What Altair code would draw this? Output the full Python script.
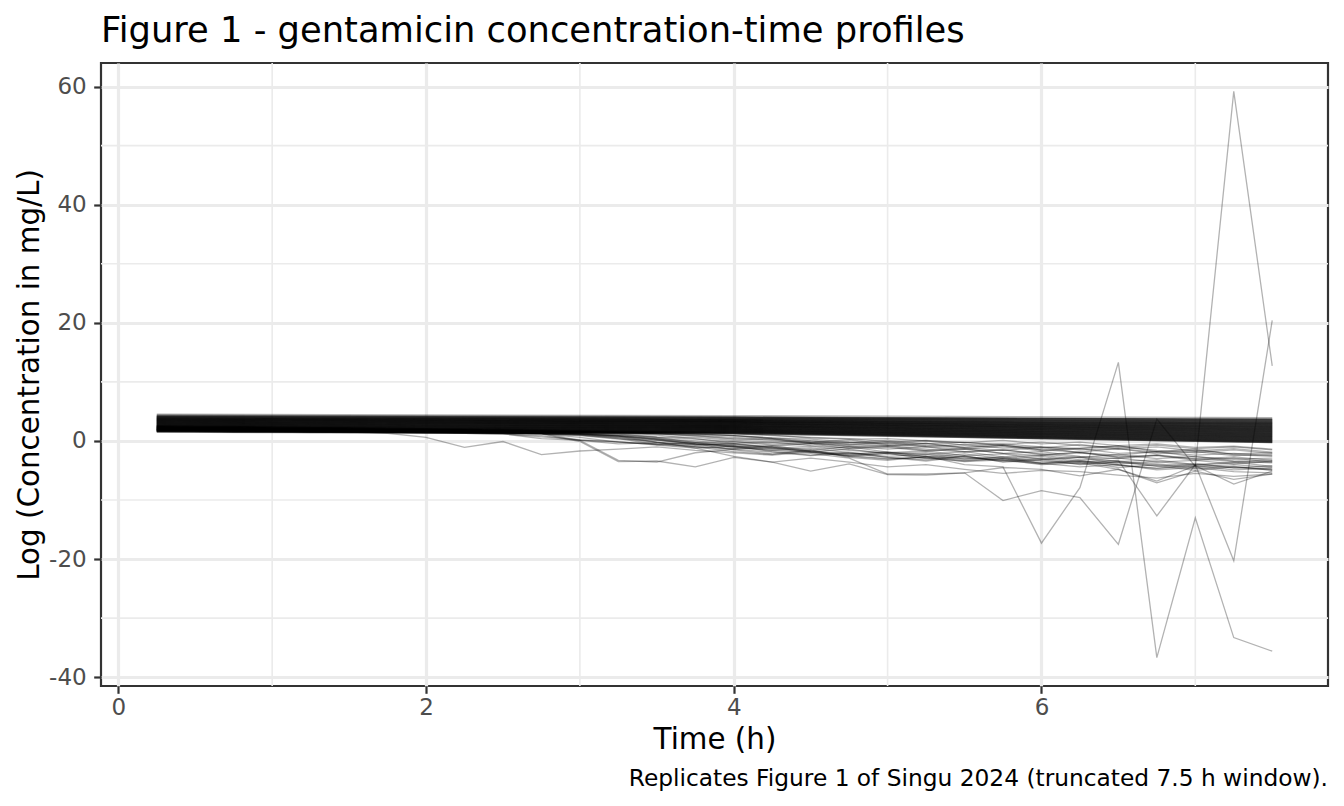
import altair as alt
import pandas as pd

# ---------------- data ----------------
times = [0.25, 0.5, 0.75, 1.0, 1.25, 1.5, 1.75, 2.0, 2.25, 2.5,
         2.75, 3.0, 3.25, 3.5, 3.75, 4.0, 4.25, 4.5, 4.75, 5.0,
         5.25, 5.5, 5.75, 6.0, 6.25, 6.5, 6.75, 7.0, 7.25, 7.5]

# dense core of near-straight profiles: value at 0.25 h, 4 h and 7.5 h
core_times = [0.25, 4.0, 7.5]
core_start = [4.52, 4.38, 4.31, 4.26, 4.21, 4.17, 4.14, 4.10, 4.07, 4.03,
              3.99, 3.96, 3.94, 3.90, 3.87, 3.84, 3.81, 3.79, 3.76, 3.73,
              3.70, 3.68, 3.65, 3.62, 3.59, 3.57, 3.54, 3.51, 3.48, 3.46,
              3.43, 3.40, 3.38, 3.35, 3.32, 3.29, 3.27, 3.24, 3.21, 3.18,
              3.16, 3.13, 3.10, 3.07, 3.05, 3.02, 2.99, 2.96, 2.94, 2.91,
              2.88, 2.85, 2.83, 2.80, 2.77, 2.74, 2.72, 2.69, 2.66, 2.63,
              2.61, 2.58, 2.55, 2.52, 2.50, 2.47, 2.44, 2.41, 2.39, 2.36,
              2.33, 2.30, 2.28, 2.25, 2.22, 2.19, 2.17, 2.14, 2.11, 2.08,
              2.06, 2.03, 2.00, 1.97, 1.95, 1.92, 1.89, 1.86, 1.84, 1.81,
              1.78, 1.75, 1.73, 1.70, 1.67, 1.64, 1.62, 1.59, 1.55, 1.48]
core_mid = [4.30, 4.05, 4.12, 3.98, 4.02, 3.90, 3.95, 3.82, 3.88, 3.76,
            3.80, 3.66, 3.74, 3.70, 3.58, 3.65, 3.52, 3.60, 3.47, 3.55,
            3.44, 3.50, 3.36, 3.42, 3.30, 3.38, 3.25, 3.33, 3.18, 3.27,
            3.14, 3.22, 3.08, 3.17, 3.02, 3.12, 2.96, 3.06, 2.90, 3.00,
            2.85, 2.95, 2.80, 2.89, 2.74, 2.84, 2.68, 2.78, 2.62, 2.72,
            2.57, 2.66, 2.51, 2.60, 2.46, 2.55, 2.40, 2.49, 2.34, 2.43,
            2.29, 2.38, 2.23, 2.32, 2.18, 2.26, 2.12, 2.20, 2.06, 2.15,
            2.01, 2.09, 1.95, 2.03, 1.90, 1.97, 1.84, 1.92, 1.79, 1.86,
            1.73, 1.80, 1.68, 1.75, 1.62, 1.69, 1.57, 1.63, 1.51, 1.58,
            1.46, 1.52, 1.40, 1.47, 1.35, 1.41, 1.29, 1.36, 1.24, 1.20]
core_end = [3.95, 3.70, 3.60, 3.78, 3.52, 3.66, 3.40, 3.55, 3.30, 3.45,
            3.20, 3.38, 3.10, 3.28, 3.02, 3.18, 2.95, 3.08, 2.85, 3.00,
            2.78, 2.92, 2.70, 2.84, 2.60, 2.76, 2.52, 2.66, 2.44, 2.58,
            2.36, 2.50, 2.28, 2.42, 2.20, 2.34, 2.12, 2.26, 2.04, 2.18,
            1.96, 2.10, 1.88, 2.02, 1.80, 1.94, 1.72, 1.86, 1.64, 1.78,
            1.56, 1.70, 1.48, 1.62, 1.40, 1.54, 1.32, 1.46, 1.24, 1.38,
            1.16, 1.30, 1.08, 1.22, 1.00, 1.14, 0.92, 1.06, 0.84, 0.98,
            0.76, 0.90, 0.68, 0.82, 0.60, 0.74, 0.52, 0.66, 0.44, 0.58,
            0.36, 0.50, 0.28, 0.42, 0.20, 0.34, 0.12, 0.26, 0.04, 0.18,
            -0.04, 0.10, -0.12, 0.02, -0.20, -0.06, -0.28, -0.14, -0.30, -0.22]

# individual profiles that fall below the core (one value per time point)
s01 = [1.9, 1.8, 1.8, 1.7, 1.6, 1.5, 1.3, 0.6, -1.1, -0.1, -2.3, -1.7, -1.4, -1.0, -1.6, -2.0, -2.4, -1.9, -2.6, -3.1, -2.7, -3.3, -3.0, -3.8, -3.4, -4.1, -4.6, -4.0, -4.5, -4.9]
s02 = [2.0, 2.0, 1.9, 1.9, 1.8, 1.8, 1.7, 1.6, 1.5, 1.4, 1.3, 0.1, -3.3, -3.6, -2.0, -1.4, -1.9, -2.5, -2.1, -2.8, -3.2, -2.6, -3.5, -3.1, -4.0, -3.6, -3.9, -4.4, -4.0, -4.5]
s03 = [2.1, 2.0, 2.0, 1.9, 1.9, 1.8, 1.7, 1.6, 1.5, 1.4, 1.2, -0.1, -3.5, -3.4, -4.4, -2.8, -3.6, -5.1, -3.9, -5.7, -5.8, -5.4, -10.1, -8.4, -9.6, -17.5, 3.7, -4.3, 59.2, 12.7]
s04 = [1.8, 1.8, 1.7, 1.7, 1.6, 1.6, 1.5, 1.5, 1.4, 1.3, 1.2, 1.0, 0.6, -0.2, -1.2, -2.6, -3.6, -2.9, -3.6, -4.4, -4.0, -4.8, -5.5, -5.0, -5.2, -5.8, -6.3, -5.5, -6.0, -5.6]
s05 = [2.2, 2.1, 2.1, 2.0, 1.9, 1.9, 1.8, 1.7, 1.6, 1.5, 1.4, 1.2, 0.8, 0.2, -0.5, -1.5, -2.2, -1.6, -2.8, -3.3, -2.6, -4.0, -4.4, -17.3, -7.9, 13.3, -36.7, -13.0, -33.3, -35.6]
s06 = [1.9, 1.9, 1.8, 1.8, 1.7, 1.7, 1.6, 1.5, 1.5, 1.4, 1.3, 1.1, 0.8, 0.3, -0.2, -0.9, -1.0, -1.8, -2.3, -1.9, -2.7, -2.2, -3.0, -2.6, -3.5, -3.3, -12.7, -4.0, -20.3, 20.4]
s07 = [2.3, 2.2, 2.2, 2.1, 2.1, 2.0, 1.9, 1.9, 1.8, 1.7, 1.6, 1.5, 1.4, 1.2, 1.0, 0.6, 0.3, -0.4, -0.2, -0.7, -0.9, -0.6, -1.2, -1.0, -1.5, -1.3, -1.9, -1.6, -2.2, -2.0]
s08 = [2.0, 2.0, 1.9, 1.9, 1.8, 1.8, 1.7, 1.6, 1.5, 1.4, 1.3, 1.2, 0.9, 0.4, 0.0, -0.6, -0.9, -0.5, -1.3, -1.1, -1.7, -1.4, -2.1, -2.5, -1.9, -2.8, -2.4, -3.1, -2.7, -3.3]
s09 = [2.5, 2.4, 2.4, 2.3, 2.2, 2.2, 2.1, 2.0, 1.9, 1.8, 1.7, 1.6, 1.5, 1.3, 1.1, 0.9, 0.4, -0.3, 0.2, -0.6, -0.4, -1.1, -0.7, -1.5, -1.2, -0.8, -1.8, -1.4, -2.3, -2.6]
s10 = [1.7, 1.7, 1.6, 1.6, 1.5, 1.5, 1.4, 1.4, 1.3, 1.2, 0.7, 0.2, -0.2, -0.5, -0.9, -1.3, -0.8, -1.7, -2.2, -1.9, -2.6, -3.0, -2.7, -3.4, -3.9, -3.6, -4.3, -3.8, -4.6, -4.2]
s11 = [2.4, 2.3, 2.3, 2.2, 2.2, 2.1, 2.0, 1.9, 1.9, 1.8, 1.7, 1.6, 1.5, 1.4, 1.2, 0.9, 0.5, 0.0, -0.3, 0.1, -0.5, -0.2, -0.8, -1.2, -0.6, -1.4, -1.0, -1.7, -1.3, -1.9]
s12 = [1.9, 1.9, 1.8, 1.8, 1.7, 1.7, 1.6, 1.5, 1.5, 1.4, 1.3, 1.1, 0.5, -0.3, -0.6, -0.4, -1.1, -1.5, -1.0, -1.9, -2.3, -1.8, -2.7, -2.4, -3.2, -2.9, -3.6, -3.3, -3.9, -3.5]
s13 = [2.2, 2.1, 2.1, 2.0, 2.0, 1.9, 1.8, 1.8, 1.7, 1.6, 1.5, 1.4, 1.2, 0.7, 0.6, 0.1, -0.2, 0.0, -0.6, -0.9, -0.4, -1.2, -1.6, -1.1, -2.0, -2.4, -1.8, -2.7, -3.1, -2.9]
s14 = [1.6, 1.6, 1.5, 1.5, 1.5, 1.4, 1.4, 1.3, 1.3, 1.2, 0.4, 0.1, -0.5, -0.3, -1.0, -1.4, -1.1, -1.9, -2.5, -2.1, -2.9, -3.4, -3.0, -3.8, -4.4, -4.0, -4.9, -4.5, -5.2, -5.4]
s15 = [2.6, 2.5, 2.5, 2.4, 2.3, 2.3, 2.2, 2.1, 2.1, 2.0, 1.9, 1.8, 1.7, 1.6, 1.5, 1.3, 1.0, 0.5, 0.3, 0.4, 0.0, -0.3, 0.1, -0.5, -0.2, -0.8, -0.5, -1.1, -0.9, -1.4]
s16 = [2.1, 2.0, 2.0, 1.9, 1.9, 1.8, 1.7, 1.7, 1.6, 1.5, 1.4, 1.3, 1.1, 0.6, 0.3, -0.1, -0.5, -0.3, -0.9, -1.4, -1.0, -1.8, -1.5, -2.2, -2.8, -2.3, -3.0, -2.6, -3.4, -3.7]
s17 = [1.8, 1.8, 1.7, 1.7, 1.6, 1.6, 1.5, 1.5, 1.4, 1.3, 1.2, 0.9, 0.3, 0.1, -0.4, -0.8, -1.3, -0.9, -1.6, -2.0, -1.7, -2.5, -2.2, -3.1, -2.7, -3.5, -3.2, -4.0, -3.6, -4.3]
s18 = [2.3, 2.2, 2.2, 2.1, 2.0, 2.0, 1.9, 1.8, 1.8, 1.7, 1.6, 1.5, 1.4, 1.2, 0.8, 0.3, 0.3, -0.2, -0.5, -0.1, -0.8, -1.1, -0.7, -1.5, -1.9, -1.3, -2.2, -1.8, -2.5, -2.3]
s19 = [1.7, 1.7, 1.6, 1.6, 1.5, 1.5, 1.4, 1.4, 1.3, 1.3, 1.2, 0.6, -0.2, -0.6, -0.3, -1.1, -1.6, -1.2, -2.0, -2.6, -2.3, -3.1, -2.8, -3.7, -3.3, -4.1, -4.7, -4.2, -4.9, -4.6]
s20 = [2.0, 2.0, 1.9, 1.9, 1.8, 1.8, 1.7, 1.7, 1.6, 1.5, 1.4, 1.3, 1.0, 0.6, -0.3, -0.1, -0.7, -0.4, -1.0, -0.8, -1.4, -1.9, -1.5, -2.3, -2.0, -2.7, -2.4, -3.0, -3.5, -3.2]
s21 = [2.4, 2.3, 2.3, 2.2, 2.2, 2.1, 2.0, 2.0, 1.9, 1.8, 1.7, 1.6, 1.5, 1.4, 1.2, 0.9, 0.5, 0.3, -0.2, -0.4, 0.0, -0.7, -0.5, -1.0, -1.3, -0.9, -1.6, -2.0, -1.5, -2.1]
s22 = [1.9, 1.8, 1.8, 1.7, 1.7, 1.6, 1.6, 1.5, 1.4, 1.4, 1.3, 1.2, 0.8, -0.2, -0.7, -0.5, -1.2, -1.8, -1.4, -2.2, -2.0, -2.8, -3.3, -2.9, -3.7, -3.4, -4.2, -5.0, -4.4, -4.8]
s23 = [2.2, 2.1, 2.1, 2.0, 2.0, 1.9, 1.8, 1.8, 1.7, 1.6, 1.5, 1.4, 1.3, 1.0, 0.4, -0.4, -0.2, -0.8, -1.2, -0.9, -1.6, -1.3, -2.1, -1.8, -2.6, -3.0, -2.5, -3.3, -2.9, -3.6]
s24 = [2.0, 2.0, 1.9, 1.9, 1.8, 1.8, 1.7, 1.6, 1.5, 1.4, 1.3, 1.1, 0.7, 0.2, -0.6, -1.0, -1.6, -2.1, -2.9, -5.6, -5.6, -5.4, -4.5, -4.8, -5.9, -4.8, -7.1, -5.1, -6.5, -5.6]
s25 = [2.1, 2.1, 2.0, 2.0, 1.9, 1.9, 1.8, 1.7, 1.6, 1.5, 1.4, 1.2, 0.9, 0.4, -0.5, -0.9, -1.4, -1.9, -2.5, -3.0, -2.8, -3.5, -3.2, -4.0, -3.7, -4.8, -6.8, -4.2, -7.3, -5.1]
s26 = [1.8, 1.8, 1.7, 1.7, 1.6, 1.6, 1.5, 1.5, 1.4, 1.3, 1.2, 1.0, 0.4, -0.6, -1.0, -1.8, -2.3, -1.5, -2.6, -2.1, -3.0, -2.5, -3.6, -3.2, -2.8, -3.9, -3.5, -4.1, -3.7, -3.4]
s27 = [2.3, 2.2, 2.2, 2.1, 2.1, 2.0, 1.9, 1.9, 1.8, 1.7, 1.6, 1.5, 1.4, 1.2, 0.9, 0.4, 0.1, -0.4, -0.7, -0.3, -1.0, -1.4, -0.9, -1.7, -1.3, -2.1, -1.8, -2.4, -2.1, -2.5]
s28 = [1.6, 1.6, 1.5, 1.5, 1.4, 1.4, 1.4, 1.3, 1.3, 1.2, 0.9, 0.1, -0.1, -0.7, -1.2, -0.9, -1.8, -2.4, -1.9, -2.8, -3.4, -2.6, -3.3, -3.9, -3.5, -4.5, -4.0, -4.7, -4.3, -5.0]
s29 = [2.5, 2.4, 2.4, 2.3, 2.3, 2.2, 2.1, 2.1, 2.0, 1.9, 1.8, 1.7, 1.6, 1.5, 1.4, 1.2, 0.9, 0.6, 0.4, -0.1, 0.1, -0.3, -0.6, -0.2, -0.8, -1.1, -0.7, -1.3, -1.0, -1.5]

scatter_profiles = [s01, s02, s03, s04, s05, s06, s07, s08, s09, s10,
                    s11, s12, s13, s14, s15, s16, s17, s18, s19, s20,
                    s21, s22, s23, s24, s25, s26, s27, s28, s29]

x_breaks = [0, 2, 4, 6]
x_minor = [1, 3, 5, 7]
y_breaks = [-40, -20, 0, 20, 40, 60]
y_minor = [-30, -10, 10, 30, 50]

title_text = "Figure 1 - gentamicin concentration-time profiles"
caption_text = "Replicates Figure 1 of Singu 2024 (truncated 7.5 h window)."

# ---------------- long table ----------------
rows = []
for i, (a, b, c) in enumerate(zip(core_start, core_mid, core_end)):
    for t, v in zip(core_times, (a, b, c)):
        rows.append({"id": f"c{i}", "time": t, "conc": v})
for j, prof in enumerate(scatter_profiles):
    for t, v in zip(times, prof):
        rows.append({"id": f"s{j}", "time": t, "conc": v})
df = pd.DataFrame(rows)

# ggplot-like 5% expansion of the data range
def expand(lo, hi, f=0.05):
    r = hi - lo
    return [lo - f * r, hi + f * r]

x_dom = expand(df["time"].min(), df["time"].max())
y_dom = expand(df["conc"].min(), df["conc"].max())

FONT = "DejaVu Sans"
W, H = 1227, 623

x_scale = alt.Scale(domain=x_dom, nice=False, zero=False)
y_scale = alt.Scale(domain=y_dom, nice=False, zero=False)

common_axis = dict(grid=True, gridColor="#EBEBEB", gridWidth=3.2,
                   domain=False, tickColor="#333333", tickWidth=2.2,
                   tickSize=7.3, labelFontSize=23, labelColor="#4D4D4D",
                   labelFont=FONT, titleFont=FONT, titleFontSize=29.4,
                   titleFontWeight="normal", titleColor="black",
                   labelExpr="datum.value + ''")
x_axis = alt.Axis(values=x_breaks, title="Time (h)", labelPadding=3,
                  titlePadding=6, **common_axis)
y_axis = alt.Axis(values=y_breaks, title="Log (Concentration in mg/L)",
                  labelPadding=7.5, titlePadding=4, **common_axis)

minor_x = alt.Chart(pd.DataFrame({"xm": x_minor})).mark_rule(
    color="#EBEBEB", strokeWidth=1.6
).encode(x=alt.X("xm:Q", scale=x_scale, axis=x_axis))

minor_y = alt.Chart(pd.DataFrame({"ym": y_minor})).mark_rule(
    color="#EBEBEB", strokeWidth=1.6
).encode(y=alt.Y("ym:Q", scale=y_scale, axis=y_axis))

lines = alt.Chart(df).mark_line(
    color="black", opacity=0.3, strokeWidth=1.3
).encode(
    x=alt.X("time:Q", scale=x_scale, axis=x_axis),
    y=alt.Y("conc:Q", scale=y_scale, axis=y_axis),
    detail="id:N",
    order="time:Q",
)

caption = alt.Chart(pd.DataFrame({"t": [caption_text]})).mark_text(
    align="right", baseline="alphabetic", font=FONT, fontSize=23.3,
    color="black"
).encode(text="t:N", x=alt.value(W), y=alt.value(723))

chart = alt.layer(minor_x, minor_y, lines, caption).properties(
    width=W, height=H,
    title=alt.Title(title_text, anchor="start", frame="group", font=FONT,
                    fontSize=35.3, fontWeight="normal", color="black",
                    offset=13),
    autosize=alt.AutoSizeParams(type="none"),
    padding={"left": 93, "top": 55, "right": 8, "bottom": 112},
).configure(background="white",
            view=alt.ViewConfig(stroke="#333333", strokeWidth=2.2,
                                fill="white"))

chart.save("out.html", embed_options={"renderer": "svg", "actions": False})
